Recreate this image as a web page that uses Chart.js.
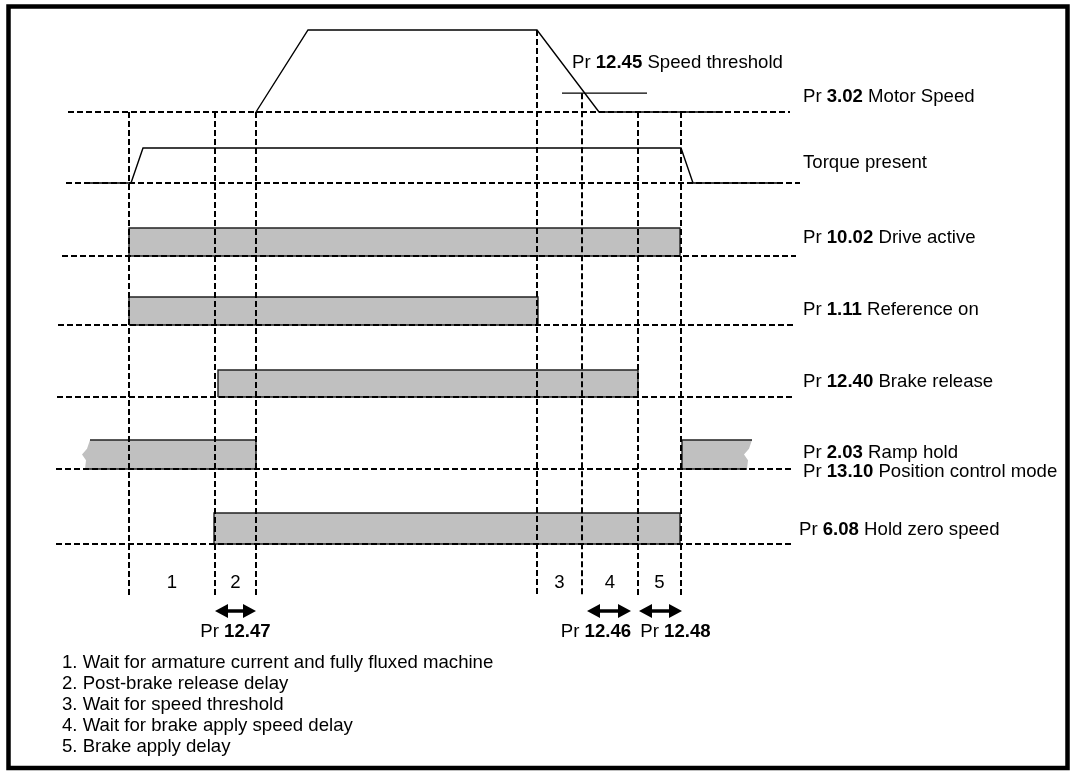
<!DOCTYPE html>
<html>
<head>
<meta charset="utf-8">
<script src="https://cdn.jsdelivr.net/npm/chart.js@4.4.0/dist/chart.umd.min.js"></script>
<style>
  html, body { margin: 0; padding: 0; background: #fff; }
  canvas { display: block; }
</style>
</head>
<body>
<canvas id="timing" width="1076" height="774"></canvas>
<script>
// Temps en unités arbitraires, t = 0 à l'activation du variateur
const eventTimes = [0, 8.6, 12.7, 40.8, 45.3, 50.9, 55.2];
const eventSpeedLevel = [0, 0, 0, 1, 0.23, 0, 0]; // où chaque repère vertical commence

// Vitesse moteur (Pr 3.02) et couple
const speedTimes = [12.7, 17.9, 40.8, 47.0, 59.4];
const speedLevel = [0, 1, 1, 0, 0];
const speedThreshold = 0.23;
const thresholdSpan = [43.3, 51.8];
const torqueTimes = [-4.1, 0.2, 1.4, 55.2, 56.4, 64.8];
const torqueLevel = [0, 0, 1, 1, 0, 0];

// Signaux logiques : intervalles à l'état haut
const driveActive = [[0, 55.1]];
const referenceOn = [[0, 40.9]];
const brakeRelease = [[8.9, 50.9]];
const rampHold = [[-3.9, 12.7], [55.3, 62.3]];
const rampHoldTorn = [[true, false], [false, true]];
const holdZeroSpeed = [[8.5, 55.1]];

// Intervalles numérotés et temporisations
const intervalLabels = ['1', '2', '3', '4', '5'];
const delayParams = ['12.47', '12.46', '12.48'];
const delaySpans = [[8.6, 12.7], [45.8, 50.2], [51.0, 55.3]];

const notes = [
  '1. Wait for armature current and fully fluxed machine',
  '2. Post-brake release delay',
  '3. Wait for speed threshold',
  '4. Wait for brake apply speed delay',
  '5. Brake apply delay'
];

// Mise en page (pixels verticaux, temps horizontaux)
const lanes = {
  speed:     { base: 112, height: 82, guide: [-6.1, 66.1] },
  torque:    { base: 183, height: 35, guide: [-6.3, 67.1] },
  drive:     { base: 256, height: 28, guide: [-6.7, 66.7] },
  reference: { base: 325, height: 28, guide: [-7.1, 66.7] },
  brake:     { base: 397, height: 27, guide: [-7.2, 66.3] },
  ramp:      { base: 469, height: 29, guide: [-7.3, 66.3] },
  hold:      { base: 544, height: 31, guide: [-7.3, 66.3] }
};
const labels = [
  { t: 44.3, y: 63,  num: '12.45', name: 'Speed threshold' },
  { t: 67.4, y: 97,  num: '3.02',  name: 'Motor Speed' },
  { t: 67.4, y: 163, text: 'Torque present' },
  { t: 67.4, y: 238, num: '10.02', name: 'Drive active' },
  { t: 67.4, y: 310, num: '1.11',  name: 'Reference on' },
  { t: 67.4, y: 382, num: '12.40', name: 'Brake release' },
  { t: 67.4, y: 453, num: '2.03',  name: 'Ramp hold' },
  { t: 67.4, y: 472, num: '13.10', name: 'Position control mode' },
  { t: 67.0, y: 530, num: '6.08',  name: 'Hold zero speed' }
];
const guideBottom = 595;
const tornEdge = [[0, 0], [-0.3, 0.3], [-0.8, 0.5], [-0.4, 0.7], [-0.5, 1]];
const FONT = '"Liberation Sans", Arial, sans-serif';
const FS = 18.6;
const dashed = { borderColor: '#000', borderWidth: 2, borderDash: [6, 3], fill: false };
const solid = { borderColor: '#000', borderWidth: 1.4, fill: false };

const speedY = (lvl) => lanes.speed.base - lvl * lanes.speed.height;

function barShape(span, lane, torn) {
  const L = lanes[lane];
  const top = L.base - L.height;
  const [a, b] = span;
  const pts = [];
  if (torn && torn[0]) {
    tornEdge.slice().reverse().forEach(([dt, f]) => pts.push({ x: a + dt, y: top + f * L.height, torn: true }));
  } else {
    pts.push({ x: a, y: L.base }, { x: a, y: top });
  }
  pts.push({ x: b, y: top });
  if (torn && torn[1]) {
    tornEdge.forEach(([dt, f]) => pts.push({ x: b + dt, y: top + f * L.height, torn: true }));
  } else {
    pts.push({ x: b, y: L.base });
  }
  pts.push({ x: pts[0].x, y: L.base });
  return {
    data: pts,
    polyFill: '#c0c0c0',
    borderColor: '#222',
    borderWidth: 1.4,
    fill: false,
    segment: {
      borderColor: (c) => (c.p0.raw.torn && c.p1.raw.torn ? 'rgba(0,0,0,0)' : '#222')
    }
  };
}

const datasets = [];
// repères verticaux en pointillés
eventTimes.forEach((t, i) => {
  datasets.push({ ...dashed, data: [{ x: t, y: speedY(eventSpeedLevel[i]) }, { x: t, y: guideBottom }] });
});
// lignes de base en pointillés
Object.values(lanes).forEach((L) => {
  datasets.push({ ...dashed, data: L.guide.map((t) => ({ x: t, y: L.base })) });
});
// vitesse, seuil, couple
datasets.push({ ...solid, data: speedTimes.map((t, i) => ({ x: t, y: speedY(speedLevel[i]) })) });
datasets.push({ ...solid, data: thresholdSpan.map((t) => ({ x: t, y: speedY(speedThreshold) })) });
datasets.push({
  ...solid,
  data: torqueTimes.map((t, i) => ({ x: t, y: lanes.torque.base - torqueLevel[i] * lanes.torque.height }))
});
// barres des signaux logiques
driveActive.forEach((s) => datasets.push(barShape(s, 'drive')));
referenceOn.forEach((s) => datasets.push(barShape(s, 'reference')));
brakeRelease.forEach((s) => datasets.push(barShape(s, 'brake')));
rampHold.forEach((s, i) => datasets.push(barShape(s, 'ramp', rampHoldTorn[i])));
holdZeroSpeed.forEach((s) => datasets.push(barShape(s, 'hold')));

// Remplissage des barres à partir des points placés par Chart.js
const polygonFill = {
  id: 'polygonFill',
  beforeDatasetDraw(chart, args) {
    const ds = chart.data.datasets[args.index];
    if (!ds.polyFill) return;
    const pts = args.meta.data;
    const ctx = chart.ctx;
    ctx.save();
    ctx.fillStyle = ds.polyFill;
    ctx.beginPath();
    pts.forEach((p, i) => (i ? ctx.lineTo(p.x, p.y) : ctx.moveTo(p.x, p.y)));
    ctx.closePath();
    ctx.fill();
    ctx.restore();
  }
};

function drawPr(ctx, x, y, num, name) {
  ctx.font = FS + 'px ' + FONT;
  ctx.fillText('Pr ', x, y);
  x += ctx.measureText('Pr ').width;
  ctx.font = 'bold ' + FS + 'px ' + FONT;
  ctx.fillText(num, x, y);
  x += ctx.measureText(num).width;
  ctx.font = FS + 'px ' + FONT;
  if (name) ctx.fillText(' ' + name, x, y);
}

function prWidth(ctx, num) {
  ctx.font = FS + 'px ' + FONT;
  const w = ctx.measureText('Pr ').width;
  ctx.font = 'bold ' + FS + 'px ' + FONT;
  return w + ctx.measureText(num).width;
}

function drawArrow(ctx, xa, xb, y) {
  const head = 13, half = 7;
  ctx.lineWidth = 3.5;
  ctx.beginPath();
  ctx.moveTo(xa + head - 2, y);
  ctx.lineTo(xb - head + 2, y);
  ctx.stroke();
  ctx.beginPath();
  ctx.moveTo(xa, y); ctx.lineTo(xa + head, y - half); ctx.lineTo(xa + head, y + half); ctx.closePath();
  ctx.moveTo(xb, y); ctx.lineTo(xb - head, y - half); ctx.lineTo(xb - head, y + half); ctx.closePath();
  ctx.fill();
}

const diagramText = {
  id: 'diagramText',
  afterDraw(chart) {
    const { ctx, scales: { x, y } } = chart;
    ctx.save();
    ctx.fillStyle = '#000';
    ctx.strokeStyle = '#000';
    ctx.textBaseline = 'middle';
    ctx.textAlign = 'left';

    labels.forEach((l) => {
      const px = x.getPixelForValue(l.t), py = y.getPixelForValue(l.y);
      if (l.text) {
        ctx.font = FS + 'px ' + FONT;
        ctx.fillText(l.text, px, py);
      } else {
        drawPr(ctx, px, py, l.num, l.name);
      }
    });

    // numéros d'intervalles
    const bounds = [[0, 1], [1, 2], [3, 4], [4, 5], [5, 6]];
    ctx.font = FS + 'px ' + FONT;
    ctx.textAlign = 'center';
    intervalLabels.forEach((lab, i) => {
      const [a, b] = bounds[i];
      const px = (x.getPixelForValue(eventTimes[a]) + x.getPixelForValue(eventTimes[b])) / 2;
      ctx.fillText(lab, px, y.getPixelForValue(583));
    });
    ctx.textAlign = 'left';

    // flèches de temporisation
    const textShift = [0, -13, 15];
    delaySpans.forEach((s, i) => {
      const xa = x.getPixelForValue(s[0]), xb = x.getPixelForValue(s[1]);
      drawArrow(ctx, xa, xb, y.getPixelForValue(611));
      const w = prWidth(ctx, delayParams[i]);
      drawPr(ctx, (xa + xb) / 2 + textShift[i] - w / 2, y.getPixelForValue(632), delayParams[i]);
    });

    // notes
    ctx.font = FS + 'px ' + FONT;
    notes.forEach((n, i) => ctx.fillText(n, 62, y.getPixelForValue(663 + i * 21)));

    // cadre
    ctx.lineWidth = 4.5;
    ctx.strokeRect(8.5, 6.5, 1059, 761.5);
    ctx.restore();
  }
};

new Chart(document.getElementById('timing'), {
  type: 'line',
  data: { datasets },
  options: {
    responsive: false,
    animation: false,
    devicePixelRatio: 1,
    layout: { padding: 0 },
    elements: { point: { radius: 0, hoverRadius: 0 }, line: { tension: 0 } },
    scales: {
      x: { type: 'linear', min: -12.9, max: 94.7, display: false },
      y: { type: 'linear', min: 0, max: 774, reverse: true, display: false }
    },
    plugins: { legend: { display: false }, tooltip: { enabled: false } },
    events: []
  },
  plugins: [polygonFill, diagramText]
});
</script>
</body>
</html>
